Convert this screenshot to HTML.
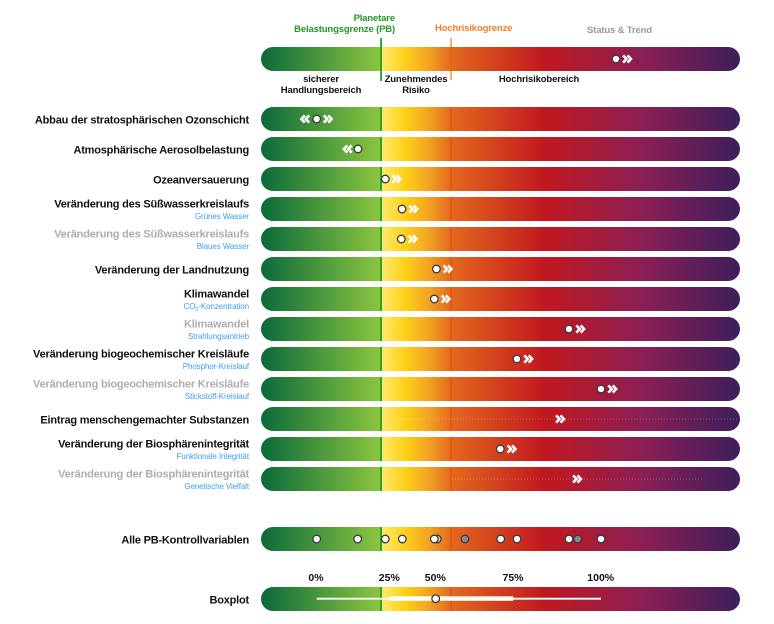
<!DOCTYPE html>
<html>
<head>
<meta charset="utf-8">
<style>
  html,body{margin:0;padding:0;background:#fff;}
  svg{display:block;}
  text{font-family:"Liberation Sans", Arial, sans-serif;}
  .m{font-size:11px;font-weight:bold;letter-spacing:-0.2px;fill:#111;}
  .g{font-size:11px;font-weight:bold;letter-spacing:-0.2px;fill:#adadad;}
  .s{font-size:8px;fill:#3d9fe9;letter-spacing:-0.1px;}
  .l{font-size:9.5px;font-weight:bold;letter-spacing:-0.15px;fill:#111;}
  .t{font-size:10.5px;font-weight:bold;fill:#111;}
</style>
</head>
<body>
<svg width="774" height="624" viewBox="0 0 774 624" xmlns="http://www.w3.org/2000/svg">
  <defs>
    <linearGradient id="gr" gradientUnits="userSpaceOnUse" x1="261" y1="0" x2="740" y2="0">
      <stop offset="0" stop-color="#0b6a3b"/>
      <stop offset="0.2505" stop-color="#8cc63f"/>
      <stop offset="0.2506" stop-color="#ffea70"/>
      <stop offset="0.30" stop-color="#fdd118"/>
      <stop offset="0.35" stop-color="#f2a322"/>
      <stop offset="0.397" stop-color="#e4691e"/>
      <stop offset="0.59" stop-color="#c1181f"/>
      <stop offset="0.80" stop-color="#8a1f56"/>
      <stop offset="1" stop-color="#3d1e5b"/>
    </linearGradient>
    <g id="bar">
      <rect x="261" y="-12" width="479" height="24" rx="12" ry="12" fill="url(#gr)"/>
      <rect x="380.2" y="-12" width="1.7" height="24" fill="#1b9b1b"/>
      <rect x="450.2" y="-12" width="1.7" height="24" fill="#e2560f"/>
    </g>
    <g id="ff">
      <path d="M-4.2,-3.6 L-0.8,0 L-4.2,3.6 M0.2,-3.6 L3.6,0 L0.2,3.6" fill="none" stroke="#fff" stroke-width="2.6" stroke-linejoin="miter"/>
    </g>
    <g id="rw">
      <path d="M4.2,-3.6 L0.8,0 L4.2,3.6 M-0.2,-3.6 L-3.6,0 L-0.2,3.6" fill="none" stroke="#fff" stroke-width="2.6" stroke-linejoin="miter"/>
    </g>
  </defs>

  <!-- Top legend -->
  <text x="395" y="21" text-anchor="end" style="font-size:9.5px;font-weight:bold;fill:#1f9a22;letter-spacing:-0.15px;">Planetare</text>
  <text x="395" y="32" text-anchor="end" style="font-size:9.5px;font-weight:bold;fill:#1f9a22;letter-spacing:-0.15px;">Belastungsgrenze (PB)</text>
  <text x="435" y="31" style="font-size:9.5px;font-weight:bold;fill:#f07f2a;letter-spacing:-0.15px;">Hochrisikogrenze</text>
  <text x="587" y="33" style="font-size:9.5px;font-weight:bold;fill:#9a9a9a;letter-spacing:-0.15px;">Status &amp; Trend</text>

  <rect x="261" y="47" width="479" height="24" rx="12" ry="12" fill="url(#gr)"/>
  <rect x="380.2" y="38" width="1.7" height="43" fill="#1b9b1b"/>
  <rect x="450.2" y="38" width="1.7" height="42" fill="#f4a04e"/>
  <rect x="450.2" y="47" width="1.7" height="24" fill="#e2600f"/>
  <circle cx="616" cy="59" r="3.8" fill="#fff" stroke="#3a3a3a" stroke-width="1.3"/>
  <use href="#ff" x="627.3" y="59"/>

  <text x="321" y="82" text-anchor="middle" class="l">sicherer</text>
  <text x="321" y="93" text-anchor="middle" class="l">Handlungsbereich</text>
  <text x="416" y="82" text-anchor="middle" class="l">Zunehmendes</text>
  <text x="416" y="93" text-anchor="middle" class="l">Risiko</text>
  <text x="539" y="82" text-anchor="middle" class="l">Hochrisikobereich</text>

  <!-- Row 1 -->
  <use href="#bar" x="0" y="119"/>
  <text x="249" y="123.5" text-anchor="end" class="m">Abbau der stratosphärischen Ozonschicht</text>
  <use href="#rw" x="305" y="119"/>
  <circle cx="316.7" cy="119" r="3.8" fill="#fff" stroke="#3a3a3a" stroke-width="1.3"/>
  <use href="#ff" x="328" y="119"/>

  <!-- Row 2 -->
  <use href="#bar" x="0" y="149"/>
  <text x="249" y="153.5" text-anchor="end" class="m">Atmosphärische Aerosolbelastung</text>
  <use href="#rw" x="347.5" y="149"/>
  <circle cx="358" cy="149" r="3.8" fill="#fff" stroke="#3a3a3a" stroke-width="1.3"/>

  <!-- Row 3 -->
  <use href="#bar" x="0" y="179"/>
  <text x="249" y="183.5" text-anchor="end" class="m">Ozeanversauerung</text>
  <circle cx="385.3" cy="179" r="3.8" fill="#fff" stroke="#3a3a3a" stroke-width="1.3"/>
  <use href="#ff" x="396.7" y="179"/>

  <!-- Row 4 -->
  <use href="#bar" x="0" y="209"/>
  <text x="249" y="207.3" text-anchor="end" class="m">Veränderung des Süßwasserkreislaufs</text>
  <text x="249" y="219" text-anchor="end" class="s">Grünes Wasser</text>
  <circle cx="402" cy="209" r="3.8" fill="#fff" stroke="#3a3a3a" stroke-width="1.3"/>
  <use href="#ff" x="413.5" y="209"/>

  <!-- Row 5 -->
  <use href="#bar" x="0" y="239"/>
  <text x="249" y="237.3" text-anchor="end" class="g">Veränderung des Süßwasserkreislaufs</text>
  <text x="249" y="249" text-anchor="end" class="s">Blaues Wasser</text>
  <circle cx="401.3" cy="239" r="3.8" fill="#fff" stroke="#3a3a3a" stroke-width="1.3"/>
  <use href="#ff" x="412.8" y="239"/>

  <!-- Row 6 -->
  <use href="#bar" x="0" y="269"/>
  <text x="249" y="273.5" text-anchor="end" class="m">Veränderung der Landnutzung</text>
  <circle cx="436.4" cy="269" r="3.8" fill="#fff" stroke="#3a3a3a" stroke-width="1.3"/>
  <use href="#ff" x="447.8" y="269"/>

  <!-- Row 7 -->
  <use href="#bar" x="0" y="299"/>
  <text x="249" y="297.3" text-anchor="end" class="m">Klimawandel</text>
  <text x="249" y="309" text-anchor="end" class="s">CO<tspan style="font-size:5.5px" dy="2">2</tspan><tspan dy="-2">-Konzentration</tspan></text>
  <circle cx="434.3" cy="299" r="3.8" fill="#fff" stroke="#3a3a3a" stroke-width="1.3"/>
  <use href="#ff" x="445.8" y="299"/>

  <!-- Row 8 -->
  <use href="#bar" x="0" y="329"/>
  <text x="249" y="327.3" text-anchor="end" class="g">Klimawandel</text>
  <text x="249" y="339" text-anchor="end" class="s">Strahlungsantrieb</text>
  <circle cx="569" cy="329" r="3.8" fill="#fff" stroke="#3a3a3a" stroke-width="1.3"/>
  <use href="#ff" x="580.5" y="329"/>

  <!-- Row 9 -->
  <use href="#bar" x="0" y="359"/>
  <text x="249" y="357.3" text-anchor="end" class="m">Veränderung biogeochemischer Kreisläufe</text>
  <text x="249" y="369" text-anchor="end" class="s">Phosphor-Kreislauf</text>
  <circle cx="517" cy="359" r="3.8" fill="#fff" stroke="#3a3a3a" stroke-width="1.3"/>
  <use href="#ff" x="528.5" y="359"/>

  <!-- Row 10 -->
  <use href="#bar" x="0" y="389"/>
  <text x="249" y="387.3" text-anchor="end" class="g">Veränderung biogeochemischer Kreisläufe</text>
  <text x="249" y="399" text-anchor="end" class="s">Stickstoff-Kreislauf</text>
  <circle cx="601" cy="389" r="3.8" fill="#fff" stroke="#3a3a3a" stroke-width="1.3"/>
  <use href="#ff" x="612.5" y="389"/>

  <!-- Row 11 -->
  <use href="#bar" x="0" y="419"/>
  <text x="249" y="423.5" text-anchor="end" class="m">Eintrag menschengemachter Substanzen</text>
  <line x1="382" y1="419" x2="738" y2="419" stroke="#ffffff" stroke-opacity="0.35" stroke-width="0.8" stroke-dasharray="1 2"/>
  <use href="#ff" x="560.3" y="419"/>

  <!-- Row 12 -->
  <use href="#bar" x="0" y="449"/>
  <text x="249" y="447.3" text-anchor="end" class="m">Veränderung der Biosphärenintegrität</text>
  <text x="249" y="459" text-anchor="end" class="s">Funktionale Integrität</text>
  <circle cx="500.3" cy="449" r="3.8" fill="#fff" stroke="#3a3a3a" stroke-width="1.3"/>
  <use href="#ff" x="511.8" y="449"/>

  <!-- Row 13 -->
  <use href="#bar" x="0" y="479"/>
  <text x="249" y="477.3" text-anchor="end" class="g">Veränderung der Biosphärenintegrität</text>
  <text x="249" y="489" text-anchor="end" class="s">Genetische Vielfalt</text>
  <line x1="452" y1="479" x2="703" y2="479" stroke="#ffffff" stroke-opacity="0.35" stroke-width="0.8" stroke-dasharray="1 2"/>
  <use href="#ff" x="577.3" y="479"/>

  <!-- All PB -->
  <use href="#bar" x="0" y="539"/>
  <text x="249" y="543.5" text-anchor="end" class="m">Alle PB-Kontrollvariablen</text>
  <circle cx="316.7" cy="539" r="3.8" fill="#fff" stroke="#3a3a3a" stroke-width="1.3"/>
  <circle cx="357.7" cy="539" r="3.8" fill="#fff" stroke="#3a3a3a" stroke-width="1.3"/>
  <circle cx="385.3" cy="539" r="3.8" fill="#fff" stroke="#3a3a3a" stroke-width="1.3"/>
  <circle cx="402.3" cy="539" r="3.8" fill="#fff" stroke="#3a3a3a" stroke-width="1.3"/>
  <circle cx="437.3" cy="539" r="3.8" fill="#cfcfcf" stroke="#3a3a3a" stroke-width="1.3"/>
  <circle cx="434.3" cy="539" r="3.8" fill="#fff" stroke="#3a3a3a" stroke-width="1.3"/>
  <circle cx="465" cy="539" r="3.8" fill="#8a8a8a" stroke="#3a3a3a" stroke-width="1.3"/>
  <circle cx="500.7" cy="539" r="3.8" fill="#fff" stroke="#3a3a3a" stroke-width="1.3"/>
  <circle cx="517" cy="539" r="3.8" fill="#fff" stroke="#3a3a3a" stroke-width="1.3"/>
  <circle cx="569" cy="539" r="3.8" fill="#fff" stroke="#3a3a3a" stroke-width="1.3"/>
  <circle cx="577.7" cy="539" r="3.8" fill="#8a8a8a" stroke="#3a3a3a" stroke-width="1.3"/>
  <circle cx="601" cy="539" r="3.8" fill="#fff" stroke="#3a3a3a" stroke-width="1.3"/>

  <!-- Tick labels -->
  <text x="316" y="581" text-anchor="middle" class="t">0%</text>
  <text x="389.3" y="581" text-anchor="middle" class="t">25%</text>
  <text x="435.3" y="581" text-anchor="middle" class="t">50%</text>
  <text x="513" y="581" text-anchor="middle" class="t">75%</text>
  <text x="600.7" y="581" text-anchor="middle" class="t">100%</text>

  <!-- Boxplot -->
  <use href="#bar" x="0" y="599"/>
  <text x="249" y="603.5" text-anchor="end" class="m">Boxplot</text>
  <line x1="316.7" y1="598.7" x2="601" y2="598.7" stroke="#fff" stroke-width="1.8"/>
  <rect x="389.3" y="596.3" width="124" height="4.5" fill="#fff"/>
  <circle cx="435.7" cy="598.7" r="3.8" fill="#fff" stroke="#3a3a3a" stroke-width="1.3"/>
</svg>
</body>
</html>
